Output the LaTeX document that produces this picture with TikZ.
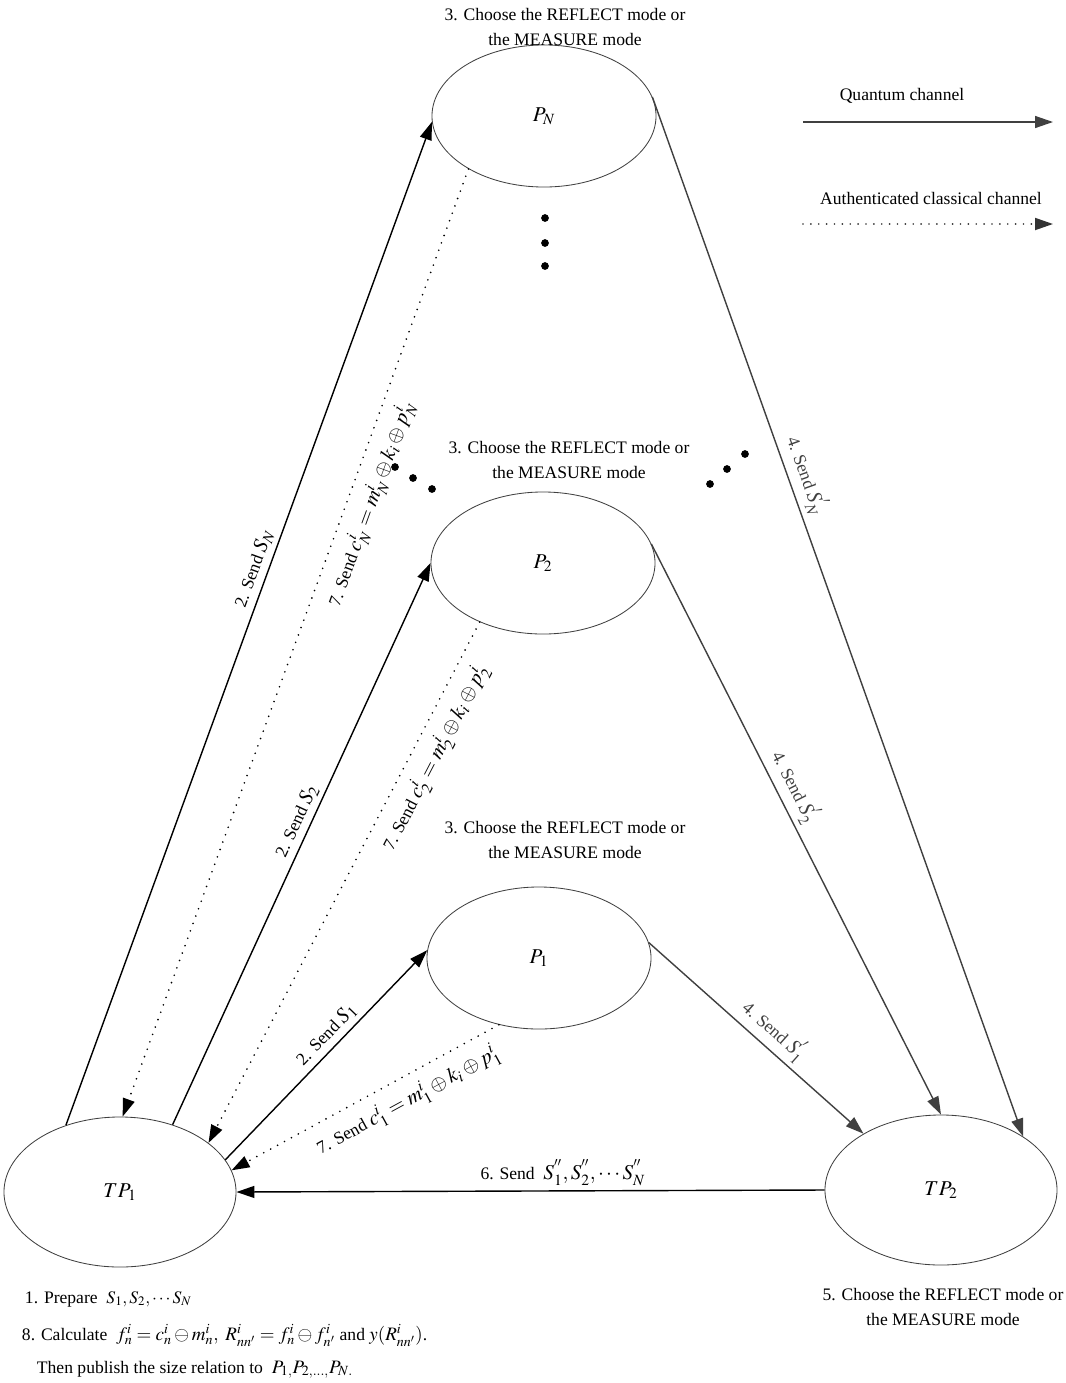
\documentclass[tikz,border=0pt]{standalone}
\usepackage{amsmath}
\usepackage{amssymb}
\usepackage{mathptmx}
\usepackage{fontspec}
\setmainfont{Liberation Serif}
\usepackage{tikz}
\usetikzlibrary{positioning}
\usetikzlibrary{shapes}
\usetikzlibrary{arrows.meta}
\tikzset{dot/.style={circle, fill, inner sep=0pt, minimum size=5.5pt}}
\newcommand{\lmath}[1]{{\fontsize{15}{18}\selectfont$#1$}}
\newcommand{\smath}[1]{{\fontsize{13.5}{18}\selectfont$#1$}}

\begin{document}
\begin{tikzpicture}
[
x=0.025cm, y=-0.025cm,
font=\fontsize{12.5}{18}\selectfont,
p/.style={ellipse, draw=black!75, line width=0.6pt, inner sep=0pt, minimum width=5.6cm, minimum height=3.55cm},
tp/.style={ellipse, draw=black!75, line width=0.6pt, inner sep=0pt, minimum width=5.8cm, minimum height=3.75cm},
qu/.style={-{Triangle[length=4.5mm,width=3mm]}, line width=1pt},
qg/.style={qu, color=black!75},
cl/.style={-{Triangle[length=4.5mm,width=3mm]}, line width=1.3pt, line cap=round, dash pattern=on 0pt off 5.6pt},
lbl/.style={align=center}
]
\useasboundingbox (0,0) rectangle (1066,1383);

\node[p] (PN) at (544,116) {\lmath{P_N}};
\node[p] (P2) at (543,563) {\lmath{P_2}};
\node[p] (P1) at (539,958) {\lmath{P_1}};
\node[tp] (TP1) at (120,1192) {\lmath{TP_1}};
\node[tp] (TP2) at (941,1190) {\lmath{TP_2}};

\node[lbl] (cN) at (565,27) {3. Choose the REFLECT mode or\\the MEASURE mode};
\node[lbl] (c2) at (569,460) {3. Choose the REFLECT mode or\\the MEASURE mode};
\node[lbl] (c1) at (565,840) {3. Choose the REFLECT mode or\\the MEASURE mode};
\node[lbl] (c5) at (943,1307) {5. Choose the REFLECT mode or\\the MEASURE mode};

\foreach \y in {218,243,266} \node[dot] at (545,\y) {};
\foreach \x/\y in {395/467,413/478,432/489,710/484,727/469,745/454} \node[dot] at (\x,\y) {};

\draw[qu] (TP1.129) -- node[sloped, above, pos=0.55] {2. Send \lmath{S_N}} (PN.183);
\draw[qu] (TP1.52)  -- node[sloped, above, pos=0.53] {2. Send \lmath{S_2}} (P2.180);
\draw[qu] (TP1.17)  -- node[sloped, above, pos=0.55] {2. Send \lmath{S_1}} (P1.176);

\draw[cl] (PN.215) -- node[sloped, below=4pt, pos=0.345] {7. Send \lmath{c_N^i=m_N^i\oplus k_i\oplus p_N^i}} (TP1.88);
\draw[cl] (P2.223) -- node[sloped, below=4pt, pos=0.24] {7. Send \lmath{c_2^i=m_2^i\oplus k_i\oplus p_2^i}} (TP1.29);
\draw[cl] (P1.239) -- node[sloped, below=4pt, pos=0.38] {7. Send \lmath{c_1^i=m_1^i\oplus k_i\oplus p_1^i}} (TP1.11);

\draw[qg] (PN.10) -- node[sloped, above, pos=0.37] {4. Send \lmath{S_N^{'}}} (TP2.33);
\draw[qg] (P2.10) -- node[sloped, above, pos=0.44] {4. Send \lmath{S_2^{'}}} (TP2.90);
\draw[qg] (P1.8)  -- node[sloped, above, pos=0.53] {4. Send \lmath{S_1^{'}}} (TP2.144);

\draw[qu] (TP2.180) -- node[above, pos=0.445] {6. Send \ \lmath{S_1^{''}, S_2^{''}, \cdots S_N^{''}}} (TP1.0);

\coordinate (qa) at (803,122);
\coordinate (qb) at (1053,122);
\coordinate (ca) at (803,224);
\coordinate (cb) at (1053,224);
\node (qt) at (902,96) {Quantum channel};
\node (ct) at (931,198) {Authenticated classical channel};
\draw[qg] (qa) -- (qb);
\draw[cl, color=black!80] (ca) -- (cb);

\node[anchor=base west] (prep) at (20,1303) {1. Prepare \ $S_1, S_2, \cdots S_N$};
\node[anchor=base west] (calc) at (17,1340) {8. Calculate \ \smath{f_n^i=c_n^i\ominus m_n^i,\ R_{nn'}^i=f_n^i\ominus f_{n'}^i} and \smath{y(R_{nn'}^i)}.};
\node[anchor=base west] (publ) at (32,1373) {Then publish the size relation to \ \smath{P_{1,}P_{2,\ldots,}P_{N.}}};
\end{tikzpicture}
\end{document}
